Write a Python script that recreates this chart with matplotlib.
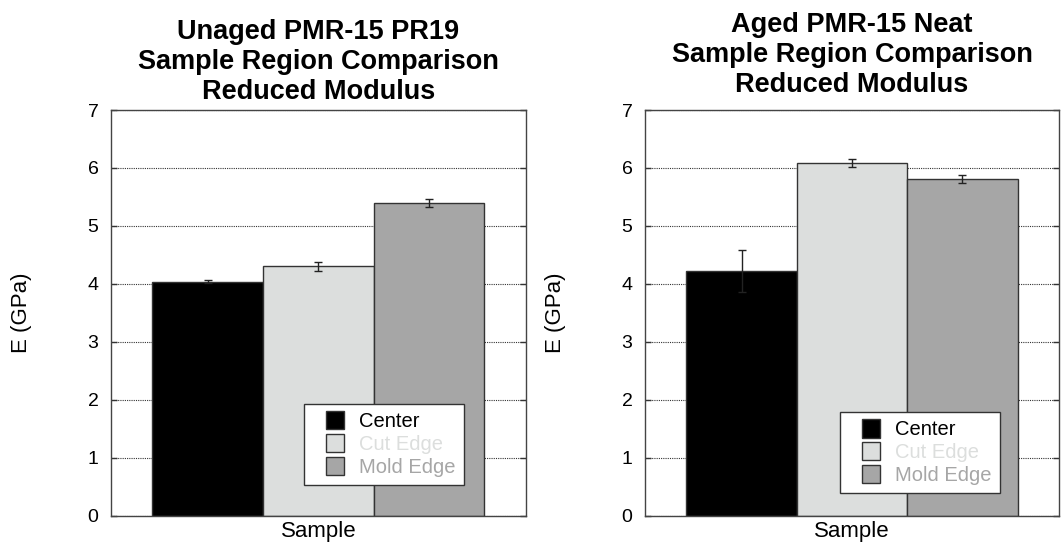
import matplotlib.pyplot as plt
import numpy as np
from matplotlib.patches import Rectangle
from matplotlib.legend_handler import HandlerPatch

plt.rcParams['font.family'] = ['Liberation Sans', 'DejaVu Sans']

regions = ['Center', 'Cut Edge', 'Mold Edge']
colors = ['#000000', '#dcdedd', '#a6a6a6']

# reduced modulus (GPa) and std. dev. per sample region
unaged_E = [4.04, 4.30, 5.39]
unaged_err = [0.03, 0.07, 0.07]
aged_E = [4.22, 6.09, 5.81]
aged_err = [0.36, 0.065, 0.07]

titles = ['Unaged PMR-15 PR19\nSample Region Comparison\nReduced Modulus',
          'Aged PMR-15 Neat\nSample Region Comparison\nReduced Modulus']


def square_patch(legend, orig_handle, xdescent, ydescent, width, height, fontsize):
    # small square at the right end of the handle box, leaving a wider left margin
    side = 13.0
    return Rectangle((-xdescent + width - side, -ydescent + (height - side) / 2),
                     side, side)


fig = plt.figure(figsize=(10.61, 5.5), dpi=100)
ax1 = fig.add_axes([0.1046, 0.0624, 0.3911, 0.7376])
ax2 = fig.add_axes([0.6079, 0.0624, 0.3902, 0.7376])

legend_pos = [(0.465, 0.076), (0.471, 0.056)]
title_pads = [8, 13]

for ax, E, err, title, lpos, tpad in zip([ax1, ax2], [unaged_E, aged_E],
                                         [unaged_err, aged_err], titles,
                                         legend_pos, title_pads):
    x = np.arange(len(regions))
    bars = ax.bar(x, E, width=1.0, color=colors, edgecolor='#333333',
                  linewidth=1.0, zorder=2)
    ax.errorbar(x, E, yerr=err, fmt='none', ecolor='#222222', elinewidth=1.0,
                capsize=3, capthick=1.0, zorder=3)
    ax.set_xlim(-0.5 - 0.375, 2.5 + 0.375)
    ax.set_ylim(0, 7)
    ax.set_yticks(range(0, 8))
    ax.set_xticks([])
    ax.yaxis.grid(True, linestyle=(0, (1, 1)), color='#333333', linewidth=0.8, zorder=0)
    ax.set_axisbelow(True)
    ax.tick_params(axis='y', direction='in', length=4, width=1, color='#333333',
                   labelsize=14, pad=9, right=True)
    for s in ax.spines.values():
        s.set_color('#444444')
        s.set_linewidth(1.0)
    ax.set_ylabel('E (GPa)', fontsize=16)
    ax.yaxis.set_label_coords(-0.19, 0.5)
    ax.set_xlabel('Sample', fontsize=16, labelpad=4)
    ax.set_title(title, fontsize=19.5, fontweight='bold', linespacing=1.2, pad=tpad)

    leg = ax.legend(bars, regions, loc='lower left', bbox_to_anchor=lpos,
                    borderaxespad=0, fontsize=14.5, fancybox=False, framealpha=1,
                    edgecolor='#333333', handlelength=1.6, handleheight=0.9,
                    handletextpad=0.75, labelspacing=0.17, borderpad=0.4,
                    handler_map={Rectangle: HandlerPatch(patch_func=square_patch)})
    leg.get_frame().set_linewidth(1.0)
    for txt, c in zip(leg.get_texts(), colors):
        txt.set_color(c)

fig.savefig('out.png', dpi=100)
